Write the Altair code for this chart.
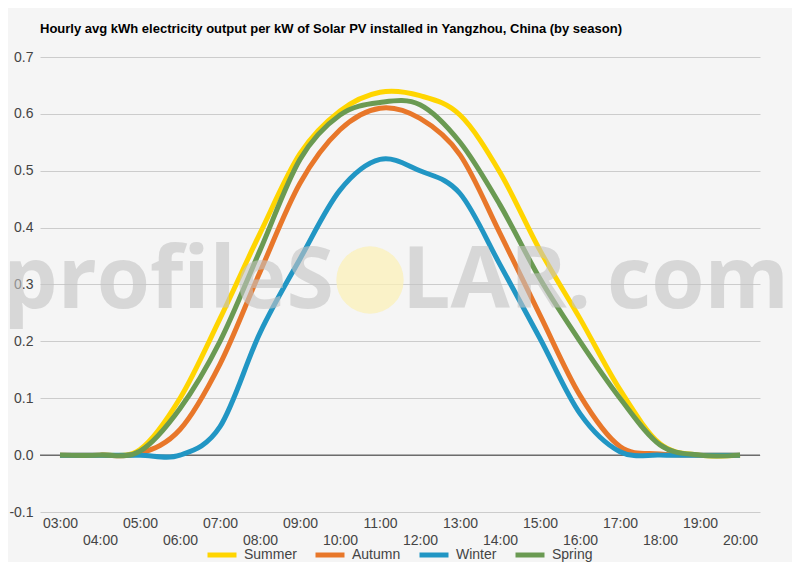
import altair as alt
import pandas as pd

# hourly values
hours = ["03:00", "04:00", "05:00", "06:00", "07:00", "08:00", "09:00", "10:00", "11:00",
         "12:00", "13:00", "14:00", "15:00", "16:00", "17:00", "18:00", "19:00", "20:00"]
summer = [0, 0, 0.01, 0.10, 0.24, 0.39, 0.53, 0.605, 0.638, 0.632, 0.598, 0.497, 0.36, 0.24, 0.115, 0.02, 0, 0]
autumn = [0, 0, 0.003, 0.045, 0.16, 0.322, 0.478, 0.572, 0.61, 0.592, 0.528, 0.39, 0.246, 0.105, 0.015, 0.002, 0, 0]
winter = [0, 0, 0, 0, 0.05, 0.215, 0.345, 0.466, 0.52, 0.50, 0.46, 0.335, 0.205, 0.073, 0.006, 0, 0, 0]
spring = [0, 0, 0.007, 0.082, 0.2, 0.36, 0.52, 0.598, 0.62, 0.616, 0.55, 0.44, 0.31, 0.2, 0.1, 0.018, 0, 0]

seasons = ["Summer", "Autumn", "Winter", "Spring"]
colors = ["#ffd500", "#e8772a", "#2196c4", "#6a9a52"]
y_ticks = [-0.1, -0.05, 0, 0.05, 0.1, 0.15, 0.2, 0.25, 0.3, 0.35, 0.4, 0.45, 0.5, 0.55, 0.6, 0.65, 0.7]

title = "Hourly avg kWh electricity output per kW of Solar PV installed in Yangzhou, China (by season)"
FONT = "Liberation Sans"

rows = []
for name, vals in zip(seasons, [summer, autumn, winter, spring]):
    for h, v in zip(hours, vals):
        rows.append({"hour": h, "season": name, "value": v})
df = pd.DataFrame(rows)

#black zero line
zero = alt.Chart(pd.DataFrame({"y": [0]})).mark_rule(color="#333333", strokeWidth=1).encode(
    y=alt.Y("y:Q", scale=alt.Scale(domain=[-0.1, 0.7], nice=False, zero=False))
)

lines = alt.Chart(df).mark_line(interpolate="cardinal", strokeWidth=5).encode(
    x=alt.X("hour:O", sort=hours, scale=alt.Scale(type="point", padding=0.5),
            axis=alt.Axis(title=None, labelAngle=0, ticks=False, domain=False, grid=False,
                          labelOverlap=False, labelBound=False, labelPadding=4,
                          labelBaseline="top", labelLineHeight=17,
                          labelExpr="parseInt(slice(datum.value,0,2)) % 2 == 0 ? ['', datum.label] : datum.label")),
    y=alt.Y("value:Q", scale=alt.Scale(domain=[-0.1, 0.7], nice=False, zero=False),
            axis=alt.Axis(title=None, values=y_ticks, ticks=False, domain=False, labelPadding=7,
                          labelExpr="round(datum.value*100) % 10 == 0 ? replace(format(datum.value, '.1f'), '\u2212', '-') : ''",
                          gridColor={"condition": {"test": "round(datum.value*100) % 10 == 0", "value": "#cccccc"},
                                     "value": "#e4e4e4"})),
    color=alt.Color("season:N", scale=alt.Scale(domain=seasons, range=colors),
                    legend=alt.Legend(title=None, orient="none", legendX=165, legendY=481,
                                      direction="horizontal", symbolType="stroke", symbolSize=841,
                                      symbolStrokeWidth=5, columnPadding=8, labelOffset=5)),
    order=alt.Order("hour:O")
)

#profileSOLAR.com watermark (the O is the sun)
def wm_text(txt, x, align):
    return alt.Chart(pd.DataFrame({"t": [txt]})).mark_text(
        font="Open Sans", fontWeight="bold", fontSize=86, align=align, baseline="alphabetic",
        color="#c4c4c4", opacity=0.6
    ).encode(text="t:N", x=alt.value(x), y=alt.value(251))

sun = alt.Chart(pd.DataFrame({"t": [1]})).mark_circle(size=4536, color="#fbf0b8", opacity=0.75).encode(
    x=alt.value(330), y=alt.value(223)
)

chart = alt.layer(zero, lines, sun,
                  wm_text("profileS", 294, "right"),
                  wm_text("LAR.", 362, "left"),
                  wm_text("com", 567, "left")).properties(
    width=720, height=455,
    title=alt.TitleParams(title, anchor="start", frame="group", fontSize=13, fontWeight="bold",
                          font=FONT, color="#000000", offset=14),
    autosize=alt.AutoSizeParams(type="none"),
    padding={"left": 32, "top": 49, "right": 32, "bottom": 50}
).configure(background="#f5f5f5").configure_view(stroke=None).configure_axis(
    labelFont=FONT, labelFontSize=14, labelColor="#444444"
).configure_legend(labelFont=FONT, labelFontSize=14, labelColor="#444444")

chart.save("out.html", embed_options={"renderer": "svg", "actions": False})
